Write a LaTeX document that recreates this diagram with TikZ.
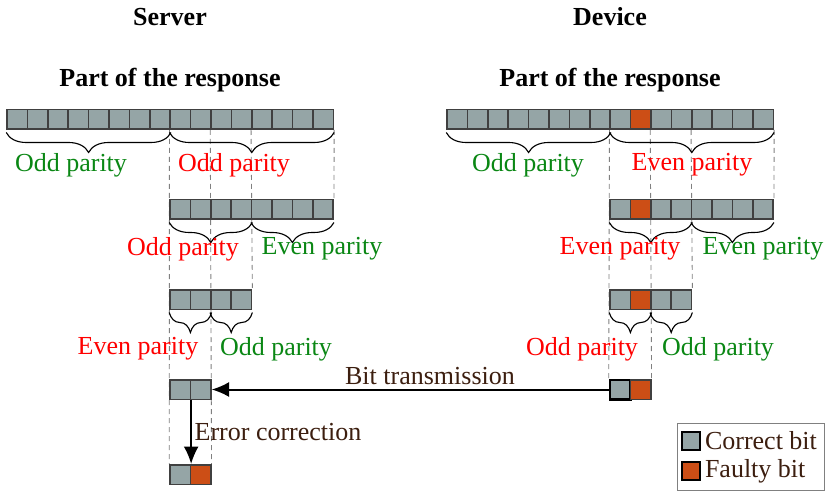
\documentclass[tikz,border=0pt]{standalone}
\usepackage{tikz}
\usepackage{xcolor}
\usepackage{fontspec}
\setmainfont{Liberation Serif}
\usetikzlibrary{arrows.meta,decorations.pathreplacing,fit,backgrounds}

\definecolor{bitgray}{RGB}{149,165,166}
\definecolor{bitorange}{RGB}{204,78,22}
\definecolor{oddgreen}{RGB}{10,135,20}
\definecolor{textbrown}{RGB}{60,30,15}

\tikzset{
  correct/.style={draw=black!75,fill=bitgray,line width=0.6pt,minimum width=8.16pt,minimum height=7.8pt,inner sep=0pt},
  faulty/.style={correct,fill=bitorange},
  guide/.style={gray,dashed,dash pattern=on 2pt off 1.6pt,line width=0.35pt},
  br/.style={decorate,decoration={brace,mirror,amplitude=8pt},line width=0.45pt},
  good/.style={text=oddgreen,font=\fontsize{10.4}{12}\selectfont},
  bad/.style={text=red,font=\fontsize{10.4}{12}\selectfont},
  note/.style={text=textbrown,font=\fontsize{10.4}{12}\selectfont},
}

\begin{document}
\begin{tikzpicture}[x=0.4pt,y=-0.4pt]
\useasboundingbox (0,0) rectangle (825,492);

% headers
\node[font=\fontsize{10.4}{12}\selectfont\bfseries] (srv) at (170,17) {Server};
\node[font=\fontsize{10.4}{12}\selectfont\bfseries] (dev) at (610,17) {Device};
\node[font=\fontsize{10.4}{12}\selectfont\bfseries] (srvpart) at (170,80) {Part of the response};
\node[font=\fontsize{10.4}{12}\selectfont\bfseries] (devpart) at (610,80) {Part of the response};

% server rows
\foreach \i in {1,...,16} \node[correct] (sa\i) at ({7+20.4*(\i-0.5)},119.5) {};
\foreach \i in {1,...,8} \node[correct] (sb\i) at ({170+20.4*(\i-0.5)},209.5) {};
\foreach \i in {1,...,4} \node[correct] (sc\i) at ({170+20.4*(\i-0.5)},299.5) {};
\foreach \i in {1,2} \node[correct] (sd\i) at ({170+20.4*(\i-0.5)},389.5) {};
\node[correct] (se1) at (180.2,474.5) {};
\node[faulty] (se2) at (200.6,474.5) {};

% device rows
\foreach \i in {1,...,16}{\ifnum\i=10 \def\st{faulty}\else\def\st{correct}\fi
  \node[\st] (da\i) at ({447+20.4*(\i-0.5)},119.5) {};}
\foreach \i in {1,...,8}{\ifnum\i=2 \def\st{faulty}\else\def\st{correct}\fi
  \node[\st] (db\i) at ({610+20.4*(\i-0.5)},209.5) {};}
\foreach \i in {1,...,4}{\ifnum\i=2 \def\st{faulty}\else\def\st{correct}\fi
  \node[\st] (dc\i) at ({610+20.4*(\i-0.5)},299.5) {};}
\node[correct,draw=black,line width=1pt] (dd1) at (620.2,389.5) {};
\node[faulty] (dd2) at (640.6,389.5) {};

% guides
\begin{pgfonlayer}{background}
\draw[guide] (sa9.south west) -- (se1.north west);
\draw[guide] (sa11.south west) -- (se2.north east);
\draw[guide] (sa13.south west) -- (sc4.north east);
\draw[guide] (sa16.south east) -- (sb8.north east);
\draw[guide] (da9.south west) -- (dd1.north west);
\draw[guide] (da11.south west) -- (dd2.north east);
\draw[guide] (da13.south west) -- (dc4.north east);
\draw[guide] (da16.south east) -- (db8.north east);
\end{pgfonlayer}

% braces
\draw[br] ([yshift=-1pt]sa1.south west) -- ([yshift=-1pt]sa8.south east);
\draw[br] ([yshift=-1pt]sa9.south west) -- ([yshift=-1pt]sa16.south east);
\draw[br] ([yshift=-1pt]sb1.south west) -- ([yshift=-1pt]sb4.south east);
\draw[br] ([yshift=-1pt]sb5.south west) -- ([yshift=-1pt]sb8.south east);
\draw[br] ([yshift=-1pt]sc1.south west) -- ([yshift=-1pt]sc2.south east);
\draw[br] ([yshift=-1pt]sc3.south west) -- ([yshift=-1pt]sc4.south east);
\draw[br] ([yshift=-1pt]da1.south west) -- ([yshift=-1pt]da8.south east);
\draw[br] ([yshift=-1pt]da9.south west) -- ([yshift=-1pt]da16.south east);
\draw[br] ([yshift=-1pt]db1.south west) -- ([yshift=-1pt]db4.south east);
\draw[br] ([yshift=-1pt]db5.south west) -- ([yshift=-1pt]db8.south east);
\draw[br] ([yshift=-1pt]dc1.south west) -- ([yshift=-1pt]dc2.south east);
\draw[br] ([yshift=-1pt]dc3.south west) -- ([yshift=-1pt]dc4.south east);

% parity labels
\node[good] (sap1) at (71,165) {Odd parity};
\node[bad] (sap2) at (234,165) {Odd parity};
\node[bad] (sbp1) at (183,249) {Odd parity};
\node[good] (sbp2) at (322,249) {Even parity};
\node[bad] (scp1) at (138,349) {Even parity};
\node[good] (scp2) at (276,349) {Odd parity};
\node[good] (dap1) at (528,165) {Odd parity};
\node[bad] (dap2) at (692,165) {Even parity};
\node[bad] (dbp1) at (620,249) {Even parity};
\node[good] (dbp2) at (763,249) {Even parity};
\node[bad] (dcp1) at (582,349) {Odd parity};
\node[good] (dcp2) at (718,349) {Odd parity};

% transmission and correction
\draw[-{Latex[length=7pt,width=6pt]},line width=0.8pt] (dd1.west) -- node[pos=0.45,above,note,inner sep=1.5pt] {Bit transmission} (sd2.east);
\draw[-{Latex[length=7pt,width=6pt]},line width=0.8pt] (sd1.south east) -- node[midway,right,note,inner sep=1pt] {Error correction} (se1.north east);

% legend
\node[correct,draw=black,minimum width=7.2pt,minimum height=7.2pt] (lgc) at (691,441) {};
\node[anchor=west,note,inner sep=1.5pt] (lgct) at (lgc.east) {Correct bit};
\node[faulty,draw=black,minimum width=7.2pt,minimum height=7.2pt] (lgf) at (691,471) {};
\node[anchor=west,note,inner sep=1.5pt] (lgft) at (lgf.east) {Faulty bit};
\node[draw=gray,line width=0.4pt,inner sep=1.5pt,fit=(lgc)(lgct)(lgf)(lgft)] (legend) {};
\end{tikzpicture}
\end{document}
